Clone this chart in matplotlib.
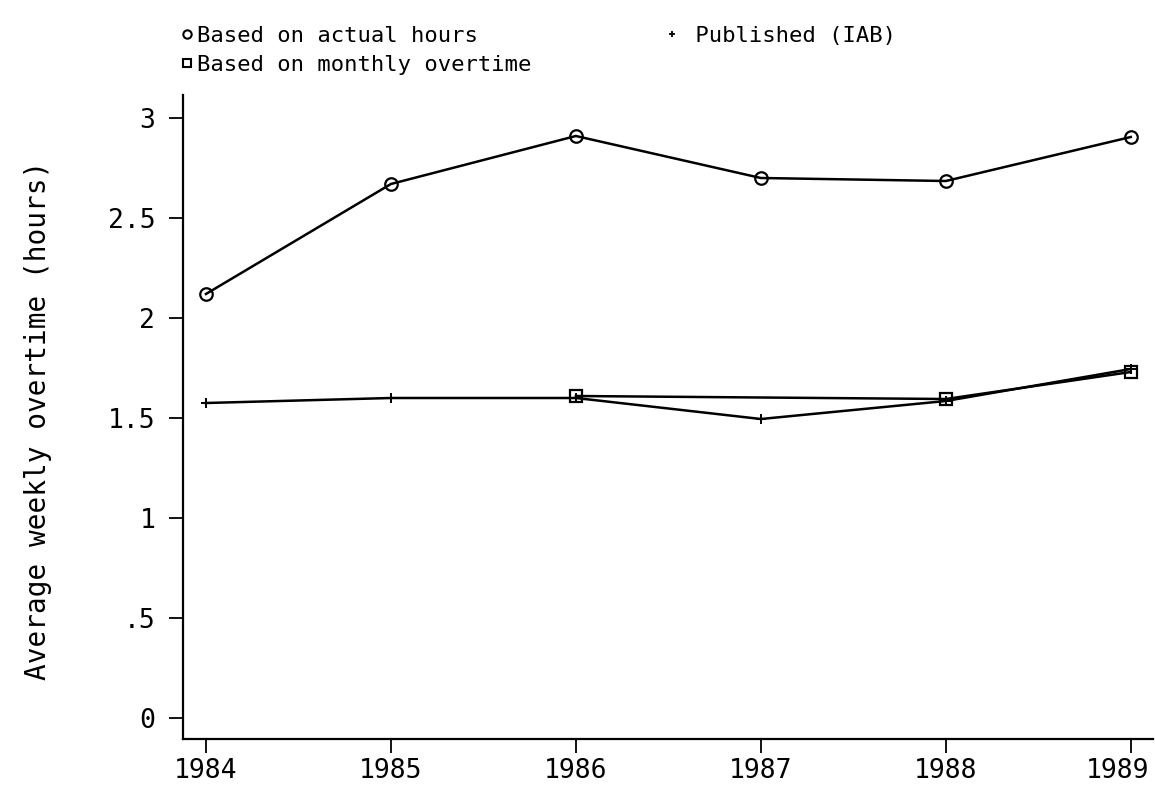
import matplotlib
matplotlib.use('Agg')
import matplotlib.pyplot as plt
import matplotlib.transforms as mtransforms
from matplotlib.lines import Line2D

years = [1984, 1985, 1986, 1987, 1988, 1989]
actual_hours = [2.12, 2.67, 2.91, 2.70, 2.685, 2.905]
published_iab = [1.575, 1.60, 1.60, 1.495, 1.585, 1.745]
monthly_years = [1986, 1988, 1989]
monthly_overtime = [1.61, 1.595, 1.73]

ytick_vals = [0, 0.5, 1, 1.5, 2, 2.5, 3]
ytick_labels = ["0", ".5", "1", "1.5", "2", "2.5", "3"]

plt.rcParams['font.family'] = ['DejaVu Sans Mono']

fig = plt.figure(figsize=(11.55, 7.85), dpi=100)
ax = fig.add_axes([183 / 1155, 46 / 785, 970 / 1155, 644 / 785])

ax.plot(years, actual_hours, color='black', lw=1.8, marker='o',
        markersize=9, markerfacecolor='none', markeredgewidth=1.6)
ax.plot(years, published_iab, color='black', lw=1.8, marker='+',
        markersize=7, markeredgewidth=1.4)
ax.plot(monthly_years, monthly_overtime, color='black', lw=1.8, marker='s',
        markersize=9, markerfacecolor='none', markeredgewidth=1.6)

ax.set_xlim(1983.876, 1989.12)
ax.set_ylim(-0.105, 3.115)
ax.set_xticks(years)
ax.set_xticklabels([str(y) for y in years], fontsize=19)
ax.set_yticks(ytick_vals)
ax.set_yticklabels(ytick_labels, fontsize=19)
ax.tick_params(direction='out', length=10, width=1.3)
ax.tick_params(axis='x', pad=3.5)
ax.tick_params(axis='y', pad=10)
for side in ['top', 'right']:
    ax.spines[side].set_visible(False)
for side in ['left', 'bottom']:
    ax.spines[side].set_linewidth(1.6)

# last year label sits a little left so it stays inside the picture
last = ax.get_xticklabels()[-1]
last.set_transform(last.get_transform() +
                   mtransforms.ScaledTranslation(-13 / 100, 0, fig.dpi_scale_trans))

ax.set_ylabel("Average weekly overtime (hours)", fontsize=20)
ax.yaxis.set_label_coords(-0.135, 0.495)

handles = [
    Line2D([], [], ls='none', marker='o', color='black', markersize=6,
           markerfacecolor='none', markeredgewidth=1.5),
    Line2D([], [], ls='none', marker='s', color='black', markersize=6,
           markerfacecolor='none', markeredgewidth=1.5),
    Line2D([], [], ls='none', marker='+', color='black', markersize=5,
           markeredgewidth=1.3),
]
labels = ["Based on actual hours", "Based on monthly overtime",
          " Published (IAB)"]
fig.legend(handles, labels, loc='upper left', ncol=2, fontsize=16,
           bbox_to_anchor=(180 / 1155, 1 - 26 / 785), frameon=False,
           handlelength=0.6, handletextpad=0.15, columnspacing=6.03,
           labelspacing=0.41, borderaxespad=0, borderpad=0)

plt.savefig("out.png")
plt.close()
